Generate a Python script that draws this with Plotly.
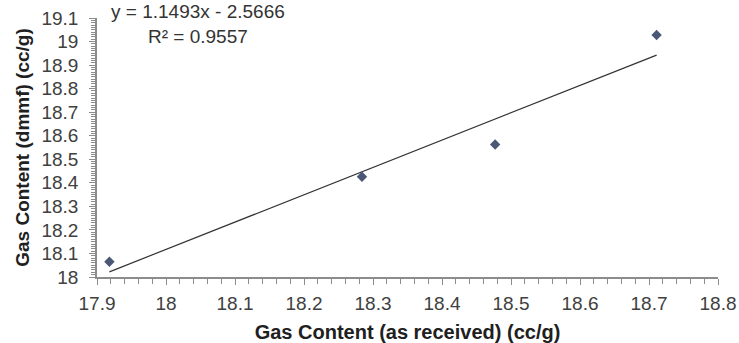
import numpy as np
import plotly.graph_objects as go

# Data
gas_as_received = [17.918, 18.284, 18.477, 18.711]
gas_dmmf = [18.065, 18.426, 18.563, 19.028]
equation_text = "y = 1.1493x - 2.5666"
r2_text = "R² = 0.9557"
x_title = "Gas Content (as received) (cc/g)"
y_title = "Gas Content (dmmf) (cc/g)"

slope, intercept = np.polyfit(gas_as_received, gas_dmmf, 1)
trend_x = [min(gas_as_received), max(gas_as_received)]
trend_y = [slope * v + intercept for v in trend_x]

font_family = "Liberation Sans, Arial, sans-serif"

fig = go.Figure()
fig.add_trace(go.Scatter(
    x=trend_x, y=trend_y, mode="lines",
    line=dict(color="#333333", width=1.2), showlegend=False, hoverinfo="skip"))
fig.add_trace(go.Scatter(
    x=gas_as_received, y=gas_dmmf, mode="markers",
    marker=dict(symbol="diamond", size=8, color="#4a5876"),
    showlegend=False))

fig.add_annotation(
    x=0.02, y=0.975, xref="paper", yref="paper", xanchor="left", yanchor="middle",
    text=equation_text + "<br>" + r2_text, showarrow=False, align="center",
    font=dict(family=font_family, size=19, color="#333333"))

fig.update_layout(
    width=739, height=343,
    margin=dict(l=97, r=21, t=18, b=66),
    paper_bgcolor="white", plot_bgcolor="white",
    font=dict(family=font_family, color="#404040"),
)
fig.update_xaxes(
    range=[17.9, 18.8], dtick=0.1, tick0=17.9,
    showgrid=False, zeroline=False, automargin=False,
    showline=True, linecolor="#8c8c8c", linewidth=1.5,
    ticks="outside", ticklen=6, tickcolor="#8c8c8c", tickwidth=1,
    minor=dict(dtick=0.02, ticks="outside", ticklen=5, tickcolor="#8c8c8c", tickwidth=1),
    tickfont=dict(size=19, color="#404040"),
    ticklabelstandoff=2,
    title=dict(text="<b>" + x_title + "</b>", font=dict(size=20, color="#202020"), standoff=17),
)
fig.update_yaxes(
    range=[18, 19.1], dtick=0.1, tick0=18,
    showgrid=False, zeroline=False, automargin=False,
    showline=True, linecolor="#8c8c8c", linewidth=1.5,
    ticks="outside", ticklen=6, tickcolor="#8c8c8c", tickwidth=1,
    minor=dict(dtick=0.01, ticks="outside", ticklen=4, tickcolor="#8c8c8c", tickwidth=1),
    tickfont=dict(size=19, color="#404040"),
    ticklabelstandoff=7,
    title=dict(text="<b>" + y_title + "</b>", font=dict(size=19, color="#202020"), standoff=7),
)

fig.write_html("out.html")
